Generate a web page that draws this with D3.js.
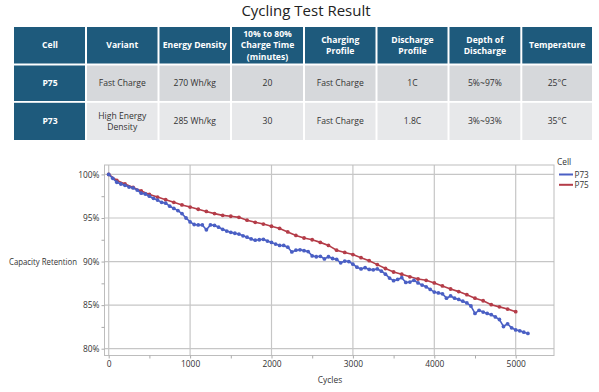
<!DOCTYPE html>
<html>
<head>
<meta charset="utf-8">
<script src="https://cdn.jsdelivr.net/npm/d3@7"></script>
<style>
  body { margin: 0; background: #fff; }
  svg { display: block; font-family: "Open Sans", "Noto Sans", sans-serif; }
</style>
</head>
<body>
<svg id="chart" width="599" height="392"></svg>
<script>
// table contents
var headers = [["Cell"], ["Variant"], ["Energy Density"], ["10% to 80%", "Charge Time", "(minutes)"],
               ["Charging", "Profile"], ["Discharge", "Profile"], ["Depth of", "Discharge"], ["Temperature"]];
var rowP75 = [["P75"], ["Fast Charge"], ["270 Wh/kg"], ["20"], ["Fast Charge"], ["1C"], ["5%~97%"], ["25°C"]];
var rowP73 = [["P73"], ["High Energy", "Density"], ["285 Wh/kg"], ["30"], ["Fast Charge"], ["1.8C"], ["3%~93%"], ["35°C"]];

// cycling data
var seriesNames = ["P73", "P75"];
var p73Step = 50;
var p73 = [100, 99.55, 99.1, 98.9, 98.75, 98.55, 98.45, 98.2, 97.85, 97.75,
           97.5, 97.25, 97.05, 96.8, 96.7, 96.35, 96.1, 95.85, 95.5, 95.0,
           94.55, 94.25, 94.2, 94.2, 93.65, 94.2, 94.15, 93.95, 93.7, 93.5,
           93.35, 93.25, 93.15, 92.95, 92.8, 92.6, 92.45, 92.5, 92.55, 92.35,
           92.2, 92.0, 91.85, 91.85, 91.65, 91.1, 91.3, 91.35, 91.25, 91.15,
           90.65, 90.55, 90.6, 90.3, 90.55, 90.35, 90.25, 89.85, 90.05, 90.0,
           89.7, 89.35, 89.15, 89.3, 89.1, 89.05, 89.15, 88.9, 88.55, 88.1,
           87.8, 87.95, 88.15, 87.6, 87.65, 87.85, 87.55, 87.3, 87.1, 86.8,
           86.5, 86.4, 86.3, 85.8, 86.05, 85.8, 85.65, 85.45, 85.25, 84.9,
           84.05, 84.4, 84.2, 84.05, 83.9, 83.65, 83.35, 82.55, 82.85, 82.4,
           82.15, 82.05, 81.9, 81.75];
var p75Step = 100;
var p75 = [100, 99.3, 98.9, 98.5, 98.1, 97.7, 97.4, 97.1, 96.8, 96.5,
           96.25, 96.0, 95.75, 95.5, 95.3, 95.2, 95.07, 94.75, 94.5, 94.3,
           94.05, 93.8, 93.4, 93.0, 92.7, 92.5, 92.2, 91.85, 91.3, 91.05,
           90.8, 90.45, 90.1, 89.65, 89.2, 88.8, 88.55, 88.25, 88.0, 87.85,
           87.55, 87.2, 86.85, 86.55, 86.2, 85.8, 85.5, 85.05, 84.8, 84.55,
           84.25];
var xTicks = [0, 1000, 2000, 3000, 4000, 5000];
var yTicks = [80, 85, 90, 95, 100];

var svg = d3.select("#chart");

/* Title + table */
svg.append("text")
  .attr("x", 306).attr("y", 16)
  .attr("text-anchor", "middle")
  .attr("font-size", 15)
  .attr("fill", "#222")
  .text("Cycling Test Result");

var colX = [14, 86, 158.5, 231, 304, 376.5, 448.5, 521.3, 593];
var rows = [
  {cells: headers, y0: 27, y1: 63.5, bg: "#1e5a7c", head: true},
  {cells: rowP75, y0: 65.5, y1: 101, bg: "#d6d8db", head: false},
  {cells: rowP73, y0: 102.8, y1: 140, bg: "#e7e8ea", head: false}
];
var blue = "#1e5a7c";

rows.forEach(function(r){
  r.cells.forEach(function(lines, i){
    var x0 = colX[i], x1 = colX[i + 1];
    var dark = r.head || i == 0;
    svg.append("rect")
      .attr("x", x0 + (i == 0 ? 0 : 1)).attr("y", r.y0)
      .attr("width", x1 - x0 - (i == 0 ? 1 : 2)).attr("height", r.y1 - r.y0)
      .attr("fill", dark ? blue : r.bg);
    var fs = r.head ? 8.6 : 8.6;
    var lh = 11.4;
    var cy = (r.y0 + r.y1) / 2;
    var t = svg.append("text")
      .attr("text-anchor", "middle")
      .attr("font-size", fs)
      .attr("font-weight", dark ? "bold" : "normal")
      .attr("fill", dark ? "#fff" : "#333");
    lines.forEach(function(s, k){
      t.append("tspan")
        .attr("x", (x0 + x1) / 2)
        .attr("y", cy + (k - (lines.length - 1) / 2) * lh + fs * 0.35)
        .text(s);
    });
  });
});

/* Chart */
var plot = {left: 104.5, right: 554, top: 165, bottom: 355.5};
var x = d3.scaleLinear().domain([0, 5000]).range([108.7, 515.7]);
var y = d3.scaleLinear().domain([80, 100]).range([348.7, 174.4]);
var gridColor = "#c6c6c6";

var g = svg.append("g");

g.selectAll(".vgrid").data(xTicks).enter().append("line")
  .attr("x1", function(d){ return x(d); }).attr("x2", function(d){ return x(d); })
  .attr("y1", plot.top).attr("y2", plot.bottom)
  .attr("stroke", gridColor).attr("stroke-width", 1.2);

g.selectAll(".hgrid").data(yTicks).enter().append("line")
  .attr("x1", plot.left).attr("x2", plot.right)
  .attr("y1", function(d){ return y(d); }).attr("y2", function(d){ return y(d); })
  .attr("stroke", gridColor).attr("stroke-width", 1.2);

g.append("rect")
  .attr("x", plot.left).attr("y", plot.top)
  .attr("width", plot.right - plot.left).attr("height", plot.bottom - plot.top)
  .attr("fill", "none").attr("stroke", "#bdbdbd").attr("stroke-width", 1);

// axes (labels + small ticks)
var yAxis = d3.axisLeft(y).tickValues([80, 82.5, 85, 87.5, 90, 92.5, 95, 97.5, 100])
  .tickSize(3).tickFormat(function(d){ return d % 5 == 0 ? d + "%" : ""; });
var ya = svg.append("g").attr("transform", "translate(" + plot.left + ",0)").call(yAxis);
ya.select(".domain").remove();
ya.selectAll("line").attr("stroke", "#aaa");
ya.selectAll("text").attr("font-size", 8.4).attr("fill", "#333")
  .attr("font-family", "'Open Sans', sans-serif").attr("x", -5);

var xAxis = d3.axisBottom(x).tickValues([0, 500, 1000, 1500, 2000, 2500, 3000, 3500, 4000, 4500, 5000])
  .tickSize(3).tickFormat(function(d){ return d % 1000 == 0 ? d : ""; });
var xa = svg.append("g").attr("transform", "translate(0," + plot.bottom + ")").call(xAxis);
xa.select(".domain").remove();
xa.selectAll("line").attr("stroke", "#aaa");
xa.selectAll("text").attr("font-size", 8.4).attr("fill", "#333")
  .attr("font-family", "'Open Sans', sans-serif").attr("y", 6);

svg.append("text").attr("x", 9).attr("y", 264.5)
  .attr("font-size", 8.6).attr("fill", "#333")
  .attr("textLength", 68).attr("lengthAdjust", "spacingAndGlyphs")
  .text("Capacity Retention");
svg.append("text").attr("x", 330).attr("y", 382.5).attr("text-anchor", "middle")
  .attr("font-size", 8.4).attr("fill", "#333").text("Cycles");

// series
var series = [
  {name: "P73", step: p73Step, values: p73, color: "#4a5fc4"},
  {name: "P75", step: p75Step, values: p75, color: "#b43c48"}
];

var line = d3.line()
  .x(function(d){ return x(d.c); })
  .y(function(d){ return y(d.v); });

series.slice().reverse().forEach(function(s){
  var pts = s.values.map(function(v, i){ return {c: i * s.step, v: v}; });
  g.append("path").datum(pts)
    .attr("d", line)
    .attr("fill", "none").attr("stroke", s.color).attr("stroke-width", 1.6);
  g.selectAll(null).data(pts).enter().append("circle")
    .attr("cx", function(d){ return x(d.c); })
    .attr("cy", function(d){ return y(d.v); })
    .attr("r", 1.9).attr("fill", s.color);
});

// legend
svg.append("text").attr("x", 557).attr("y", 164.5)
  .attr("font-size", 8.4).attr("fill", "#333").text("Cell");
seriesNames.forEach(function(n, i){
  var s = series.filter(function(d){ return d.name == n; })[0];
  var ly = 174.5 + i * 10.3;
  svg.append("line").attr("x1", 559).attr("x2", 573).attr("y1", ly).attr("y2", ly)
    .attr("stroke", s.color).attr("stroke-width", 2);
  svg.append("text").attr("x", 574.5).attr("y", ly + 3)
    .attr("font-size", 8.2).attr("fill", "#333").text(n);
});
</script>
</body>
</html>
